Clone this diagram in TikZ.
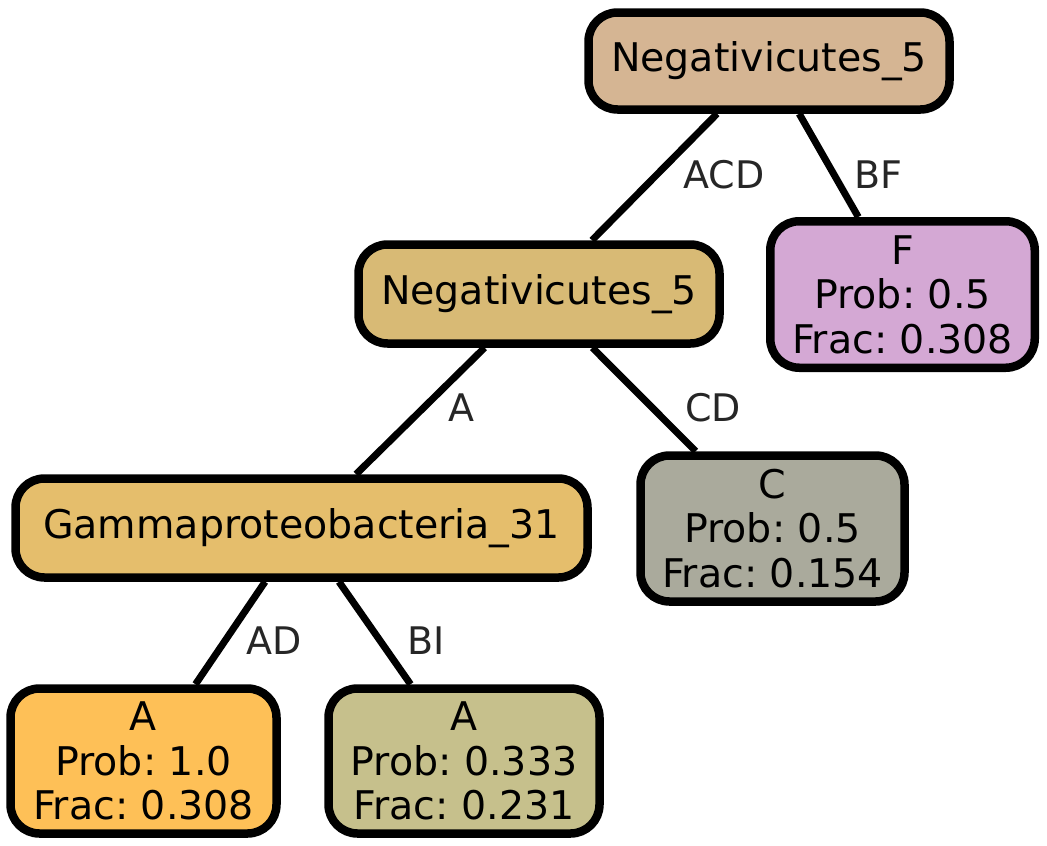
\documentclass[tikz,border=0pt]{standalone}
\usepackage{fontspec}
\setmainfont{DejaVu Sans}
\definecolor{rootcol}{HTML}{D5B593}
\definecolor{midcol}{HTML}{D8BA75}
\definecolor{fcol}{HTML}{D4A8D4}
\definecolor{gammacol}{HTML}{E5BE6C}
\definecolor{ccol}{HTML}{AAAA9C}
\definecolor{aonecol}{HTML}{FEC057}
\definecolor{atwocol}{HTML}{C6C08C}
\definecolor{labcol}{HTML}{262626}
\begin{document}
\frenchspacing
\begin{tikzpicture}[x=1pt,y=1pt,yscale=-1,xscale=1,
    box/.style={draw=black, line width=8.5pt, rounded corners=29pt, align=center, inner sep=0pt,
        font=\fontsize{39.5}{44.5}\selectfont},
    edge/.style={draw=black, line width=7pt},
    elabel/.style={text=labcol, font=\fontsize{38}{44}\selectfont}]
        \useasboundingbox (0,0) rectangle (1047,846);
        \draw (769,61) node [box, fill=rootcol, minimum width=361pt, minimum height=97pt] (root) {Negativicutes\_5};
        \draw (539,294) node [box, fill=midcol, minimum width=361pt, minimum height=99pt] (mid) {Negativicutes\_5};
        \draw (902.5,294.5) node [box, fill=fcol, minimum width=264.5pt, minimum height=146.5pt] (leafF) {F\\Prob: 0.5\\Frac: 0.308};
        \draw (301.5,528) node [box, fill=gammacol, minimum width=572pt, minimum height=99pt] (gamma) {Gammaproteobacteria\_31};
        \draw (772.5,528.5) node [box, fill=ccol, minimum width=264pt, minimum height=146pt] (leafC) {C\\Prob: 0.5\\Frac: 0.154};
        \draw (143.5,761) node [box, fill=aonecol, minimum width=266pt, minimum height=145pt] (leafAone) {A\\Prob: 1.0\\Frac: 0.308};
        \draw (464,761) node [box, fill=atwocol, minimum width=271pt, minimum height=145pt] (leafAtwo) {A\\Prob: 0.333\\Frac: 0.231};
        \draw [edge] (root) -- (mid);
        \draw [edge] (root) -- (leafF);
        \draw [edge] (mid) -- (gamma);
        \draw [edge] (mid) -- (leafC);
        \draw [edge] (gamma) -- (leafAone);
        \draw [edge] (gamma) -- (leafAtwo);
        \draw (724,175) node [elabel] (labACD) {ACD};
        \draw (878,175) node [elabel] (labBF) {BF};
        \draw (461,408) node [elabel] (labA) {A};
        \draw (713,408) node [elabel] (labCD) {CD};
        \draw (274,641) node [elabel] (labAD) {AD};
        \draw (426,641) node [elabel] (labBI) {BI};
\end{tikzpicture}
\end{document}
